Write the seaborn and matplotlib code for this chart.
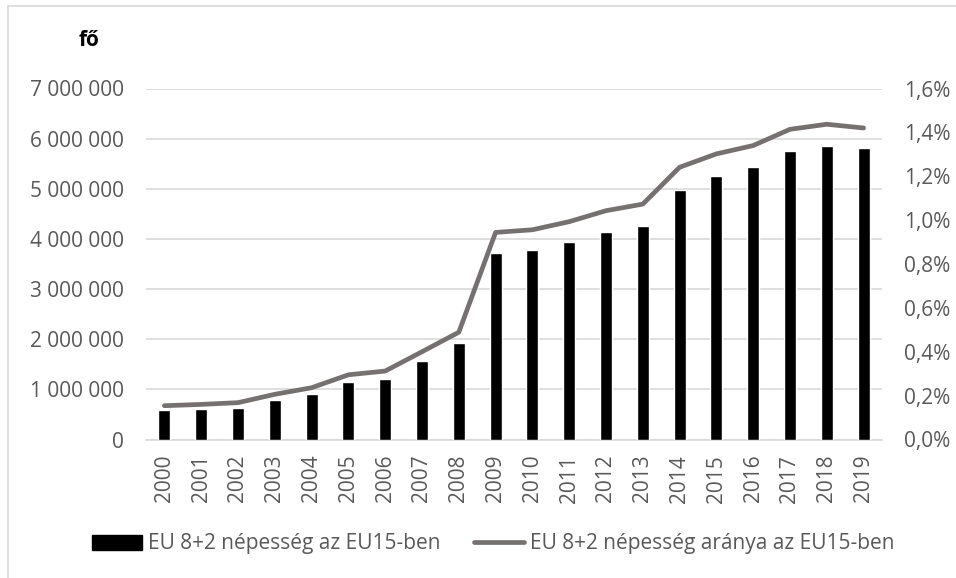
import numpy as np
import pandas as pd
import seaborn as sns
import matplotlib.pyplot as plt
from matplotlib.lines import Line2D
from matplotlib.patches import Patch
from matplotlib.ticker import FuncFormatter

years = [str(y) for y in range(2000, 2020)]
population = [590000, 600000, 630000, 780000, 900000, 1140000, 1210000, 1570000,
              1920000, 3720000, 3780000, 3930000, 4140000, 4260000, 4980000,
              5250000, 5430000, 5750000, 5850000, 5810000]
share_pct = [0.154, 0.160, 0.168, 0.206, 0.236, 0.295, 0.312, 0.400, 0.489,
             0.944, 0.956, 0.993, 1.043, 1.073, 1.241, 1.302, 1.340, 1.414,
             1.437, 1.420]

bar_label = "EU 8+2 népesség az EU15-ben"
line_label = "EU 8+2 népesség aránya az EU15-ben"

df = pd.DataFrame({"year": years, "population": population, "share": share_pct})
df["pos"] = np.arange(len(df))

sns.set_theme(style="white")
plt.rcParams["font.family"] = ["Open Sans", "DejaVu Sans"]

text_color = "#595959"
grid_color = "#d9d9d9"
line_color = "#767171"
fs = 15

fig = plt.figure(figsize=(9.56, 5.78), dpi=100)
ax = fig.add_axes([146 / 956, 1 - 439.5 / 578, 736 / 956, 351 / 578])

sns.barplot(data=df, x="year", y="population", color="black", width=0.33,
            saturation=1, ax=ax, zorder=3)
ax.set_xlim(-0.5, len(years) - 0.5)
ax.set_ylim(0, 7000000)
ax.set_yticks(np.arange(0, 7000001, 1000000))
ax.yaxis.set_major_formatter(FuncFormatter(lambda v, p: f"{int(v):,}".replace(",", " ")))
ax.grid(axis="y", color=grid_color, linewidth=1.2, zorder=0)
ax.set_axisbelow(True)
ax.set_xlabel("")
ax.set_ylabel("")
for s in ["top", "right", "left"]:
    ax.spines[s].set_visible(False)
ax.spines["bottom"].set_color(grid_color)
ax.spines["bottom"].set_linewidth(1.2)
ax.tick_params(axis="x", labelrotation=90, labelsize=fs, colors=text_color, length=0, pad=11)
ax.tick_params(axis="y", labelsize=fs, colors=text_color, length=0, pad=16)

ax2 = ax.twinx()
sns.lineplot(data=df, x="pos", y="share", color=line_color, linewidth=3.4,
             ax=ax2, zorder=4, solid_capstyle="round", solid_joinstyle="round")
ax2.set_ylim(0, 1.6)
ax2.set_yticks(np.arange(0, 1.61, 0.2))
ax2.yaxis.set_major_formatter(FuncFormatter(lambda v, p: f"{v:.1f}%".replace(".", ",")))
ax2.set_xlim(-0.5, len(years) - 0.5)
ax2.set_ylabel("")
ax2.set_xlabel("")
for s in ["top", "right", "left", "bottom"]:
    ax2.spines[s].set_visible(False)
ax2.tick_params(axis="y", labelsize=fs, colors=text_color, length=0, pad=16)
ax2.grid(False)

fig.text(89 / 956, 1 - 41 / 578, "fő", fontsize=15, fontweight="bold",
         color="black", ha="center", va="center")

handles = [Patch(facecolor="black", edgecolor="black"),
           Line2D([0], [0], color=line_color, linewidth=3.4, solid_capstyle="round")]
fig.legend(handles, [bar_label, line_label], loc="center",
           bbox_to_anchor=(493 / 956, 1 - 544 / 578), ncol=2, frameon=False,
           fontsize=fs, labelcolor=text_color, handlelength=2.4,
           handleheight=0.7, handletextpad=0.3, columnspacing=1.6)

# chart area border (top and left only visible)
fig.add_artist(Line2D([8 / 956, 1], [1 - 6 / 578, 1 - 6 / 578], color=grid_color, linewidth=1.2))
fig.add_artist(Line2D([8 / 956, 8 / 956], [0, 1 - 6 / 578], color=grid_color, linewidth=1.2))

fig.savefig("out.png", dpi=100, facecolor="white")
